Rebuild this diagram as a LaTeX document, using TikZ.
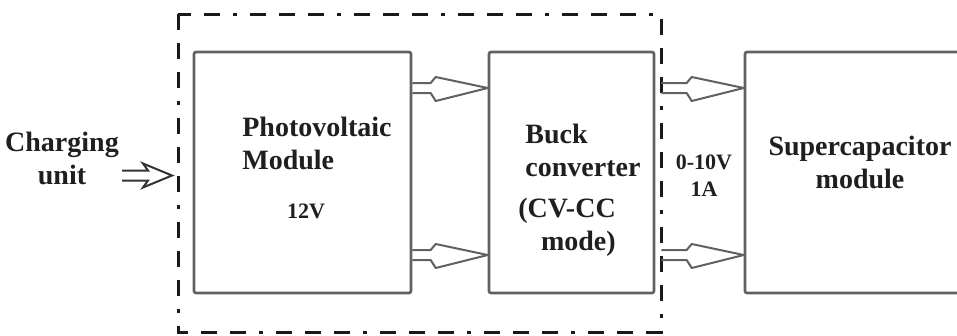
\documentclass[tikz,border=0pt]{standalone}
\usepackage{fontspec}
\setmainfont{Liberation Serif}
\usetikzlibrary{calc}
\begin{document}
\begin{tikzpicture}[x=1pt,y=-1pt,
  blockbox/.style={draw=black!62, line width=2.6pt, rounded corners=2pt, minimum width=#1, minimum height=241pt, inner sep=0pt},
  biglabel/.style={font=\bfseries\fontsize{28}{33}\selectfont, text=black!88, inner sep=0pt},
  smalllabel/.style={font=\bfseries\fontsize{22}{27}\selectfont, text=black!88, inner sep=0pt},
  unitbox/.style={draw=black!90, line width=3pt, dash pattern=on 16pt off 13pt on 16pt off 13pt on 16pt off 13pt on 4pt off 13pt},
  hollow/.style={draw=black!62, line width=2pt, line join=round,
    to path={let \p1=(\tikztostart), \p2=(\tikztotarget) in
      (\x1,\y1+5pt) -- (\x2-57pt,\y1+5pt) -- (\x2-52pt,\y1+11pt) -- (\x2,\y1) --
      (\x2-52pt,\y1-13pt) -- (\x2-57pt,\y1-5pt) -- (\x1,\y1-5pt)}},
  inarrow/.style={draw=black!80, line width=2pt, line join=miter,
    to path={let \p1=(\tikztostart), \p2=(\tikztotarget) in
      (\x1,\y1+5pt) -- (\x2-24pt,\y1+5pt) -- (\x2-29pt,\y1+12pt) -- (\x2,\y1) --
      (\x2-29pt,\y1-12pt) -- (\x2-24pt,\y1-5pt) -- (\x1,\y1-5pt)}}]
\clip (0,0) rectangle (957,335);
\fill[white] (0,0) rectangle (957,335);

% dashed charging-unit frame
\draw[unitbox] (178,14) rectangle (661,332);

% blocks
\node[blockbox=217pt] (pv) at (302.5,172.5) {};
\node[blockbox=165pt] (buck) at (571.5,172.5) {};
\node[blockbox=232pt] (sc) at (861,172.5) {};

% labels
\node[biglabel, align=center] (chg) at (62,158) {Charging\\unit};
\node[biglabel, align=left] (pvt) at (317,143) {Photovoltaic\\Module};
\node[smalllabel] (pvv) at (306,211) {12V};
\node[biglabel, align=left] (bkt) at (583,150) {Buck\\converter};
\node[biglabel, align=right] (bkm) at (567,227) {(CV-CC\\mode)};
\node[smalllabel, align=center] (out) at (704,176) {0-10V\\1A};
\node[biglabel, align=center] (sct) at (860,162) {Supercapacitor\\module};

% input arrow
\coordinate (inS) at (122,175.5);
\coordinate (inE) at (172,175.5);
\draw[inarrow] (inS) to (inE);

% PV -> Buck
\draw[hollow] ([yshift=84.5pt]pv.east) to ([yshift=84.5pt]buck.west);
\draw[hollow] ([yshift=-82.5pt]pv.east) to ([yshift=-82.5pt]buck.west);
% Buck -> Supercapacitor
\draw[hollow] ([xshift=6pt,yshift=84.5pt]buck.east) to ([yshift=84.5pt]sc.west);
\draw[hollow] ([xshift=6pt,yshift=-82.5pt]buck.east) to ([yshift=-82.5pt]sc.west);
\end{tikzpicture}
\end{document}
